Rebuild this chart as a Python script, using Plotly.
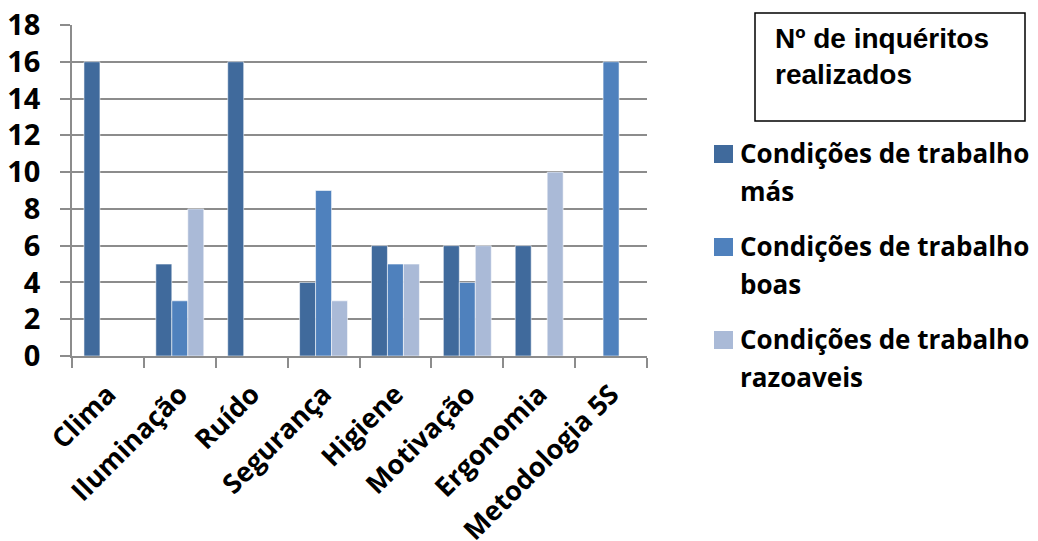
import plotly.graph_objects as go

# Survey results per workplace factor
categories = ["Clima", "Iluminação", "Ruído", "Segurança", "Higiene",
              "Motivação", "Ergonomia", "Metodologia 5S"]
mas = [16, 5, 16, 4, 6, 6, 6, 0]
boas = [0, 3, 0, 9, 5, 4, 0, 16]
razoaveis = [0, 8, 0, 3, 5, 6, 10, 0]

series_names = ["Condições de trabalho más", "Condições de trabalho boas",
                "Condições de trabalho razoaveis"]
series_values = [mas, boas, razoaveis]
series_colors = ["#406A9C", "#4F81BD", "#AABAD7"]

legend_title = "Nº de inquéritos<br>realizados"

W, H = 1038, 541
L, R, T, B = 72, 647, 25, 356
GRID = "#8C8C8C"


def px(x):
    return (x - L) / (R - L)


def py(y):
    return (B - y) / (B - T)


fig = go.Figure()
for name, vals, color in zip(series_names, series_values, series_colors):
    fig.add_trace(go.Bar(
        x=categories, y=vals, name=name,
        marker=dict(color=color, line=dict(color="rgba(255,255,255,0.55)", width=1)),
        showlegend=False,
    ))

fig.update_layout(
    width=W, height=H,
    margin=dict(l=L, r=W - R, t=T, b=H - B, autoexpand=False),
    paper_bgcolor="white", plot_bgcolor="white",
    barmode="group", bargap=0.333, bargroupgap=0,
    xaxis=dict(
        type="category", showline=True, linecolor=GRID, linewidth=1.5,
        ticks="outside", tickson="boundaries", ticklen=10, tickcolor=GRID,
        tickwidth=1.5, tickangle=-45, automargin=False, ticklabelstandoff=10,
        tickfont=dict(family="Open Sans", size=27, color="black", weight="bold"),
        showgrid=False,
    ),
    yaxis=dict(
        range=[0, 18], dtick=2, showline=True, linecolor=GRID, linewidth=1.5,
        ticks="outside", ticklen=10, tickcolor=GRID, tickwidth=1.5,
        showgrid=True, gridcolor=GRID, gridwidth=1.5, zeroline=False,
        automargin=False, ticklabelstandoff=14,
        tickfont=dict(family="Open Sans", size=29, color="black", weight="bold"),
    ),
)

# Legend title box
fig.add_shape(type="rect", xref="paper", yref="paper",
              x0=px(755), x1=px(1025), y0=py(121), y1=py(13),
              line=dict(color="black", width=1.5), fillcolor="white")
fig.add_annotation(xref="paper", yref="paper", x=px(773), y=py(21),
                   xanchor="left", yanchor="top", align="left", showarrow=False,
                   text=legend_title,
                   font=dict(family="Liberation Sans", size=28, color="black",
                             weight="bold"))

# Legend entries: colour swatch plus two-line label
for i, (name, color) in enumerate(zip(series_names, series_colors)):
    top = 145 + 93 * i
    fig.add_shape(type="rect", xref="paper", yref="paper",
                  x0=px(714), x1=px(733), y0=py(top + 18), y1=py(top),
                  line=dict(width=0), fillcolor=color)
    first, second = name.rsplit(" ", 1)
    for j, line in enumerate([first, second]):
        fig.add_annotation(xref="paper", yref="paper", x=px(738),
                           y=py(top - 12 + 38 * j),
                           xanchor="left", yanchor="top", align="left",
                           showarrow=False, text=line,
                           font=dict(family="Open Sans", size=26, color="black",
                                     weight="bold"))

fig.write_html("out.html")
